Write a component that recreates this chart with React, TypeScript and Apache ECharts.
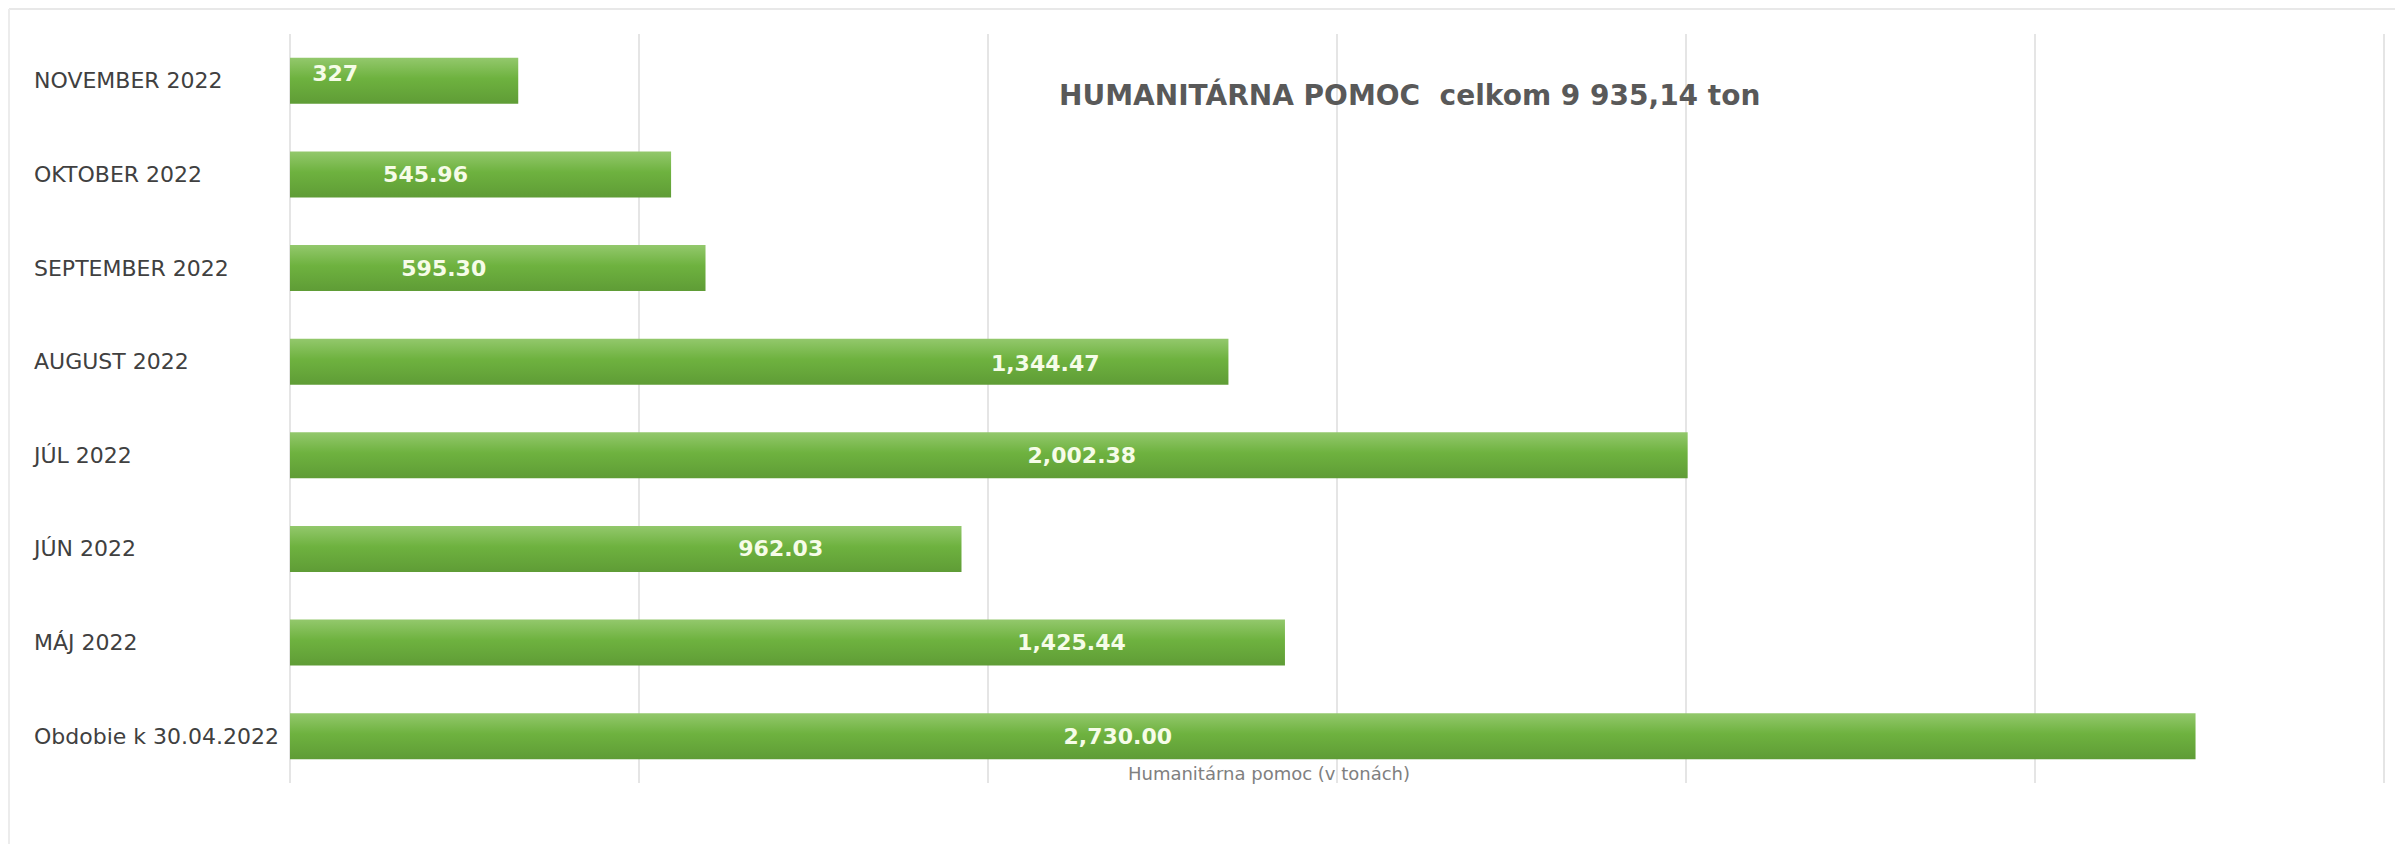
import React, { useEffect, useRef } from "react";
import * as echarts from "echarts";

const categories = [
  "NOVEMBER 2022",
  "OKTOBER 2022",
  "SEPTEMBER 2022",
  "AUGUST 2022",
  "JÚL 2022",
  "JÚN 2022",
  "MÁJ 2022",
  "Obdobie k 30.04.2022",
];
const values = [327, 545.96, 595.3, 1344.47, 2002.38, 962.03, 1425.44, 2730.0];
const valueLabels = ["327", "545.96", "595.30", "1,344.47", "2,002.38", "962.03", "1,425.44", "2,730.00"];
const labelOffsets = [[-69, -7], [-55, 0], [-54, 0], [286, 2], [93, 0], [155, 0], [284, 0], [-125, 0]];

const titleText = "HUMANITÁRNA POMOC  celkom 9 935,14 ton";
const axisName = "Humanitárna pomoc (v tonách)";

export default function App() {
  const ref = useRef<HTMLDivElement>(null);
  useEffect(() => {
    if (!ref.current) return;
    const chart = echarts.init(ref.current, undefined, { renderer: "svg" });
    const barColor = new echarts.graphic.LinearGradient(0, 0, 0, 1, [
      { offset: 0, color: "#93c86c" },
      { offset: 0.45, color: "#6eb23f" },
      { offset: 1, color: "#5f9c36" },
    ]);
    chart.setOption({
      animation: false,
      backgroundColor: "#ffffff",
      title: {
        text: titleText,
        left: 1054,
        top: 76,
        textStyle: {
          fontFamily: "DejaVu Sans",
          fontWeight: "bold",
          fontSize: 28,
          color: "#595959",
        },
      },
      graphic: [
        {
          type: "line",
          shape: { x1: 9, y1: 9, x2: 2395, y2: 9 },
          style: { stroke: "#e8e8e8", lineWidth: 2 },
          silent: true,
          z: -1,
        },
        {
          type: "line",
          shape: { x1: 9, y1: 9, x2: 9, y2: 844 },
          style: { stroke: "#ececec", lineWidth: 2 },
          silent: true,
          z: -1,
        },
      ],
      grid: { left: 290, right: 11, top: 34, bottom: 61, containLabel: false },
      xAxis: {
        type: "value",
        min: 0,
        max: 3000,
        interval: 500,
        axisLabel: { show: false },
        axisLine: { show: false },
        axisTick: { show: false },
        splitLine: { show: true, lineStyle: { color: "#dcdcdc", width: 1.5 } },
        name: axisName,
        nameLocation: "middle",
        nameGap: -19,
        nameTextStyle: {
          fontFamily: "DejaVu Sans",
          fontSize: 18,
          color: "#808080",
          padding: [0, 136, 0, 0],
        },
      },
      yAxis: {
        type: "category",
        inverse: true,
        data: categories,
        axisLine: { show: false },
        axisTick: { show: false },
        axisLabel: {
          align: "left",
          margin: 256,
          fontFamily: "DejaVu Sans",
          fontSize: 22,
          color: "#404040",
        },
      },
      series: [
        {
          type: "bar",
          barWidth: 46,
          itemStyle: { color: barColor },
          data: values.map((v, i) => ({
            value: v,
            label: {
              show: true,
              position: "inside",
              offset: labelOffsets[i],
              formatter: valueLabels[i],
              fontFamily: "DejaVu Sans",
              fontWeight: "bold",
              fontSize: 22,
              color: "#f6fce8",
            },
          })),
        },
      ],
    });
    return () => chart.dispose();
  }, []);
  return (
    <div
      ref={ref}
      style={{ position: "absolute", left: 0, top: 0, width: 2395, height: 844 }}
    />
  );
}
